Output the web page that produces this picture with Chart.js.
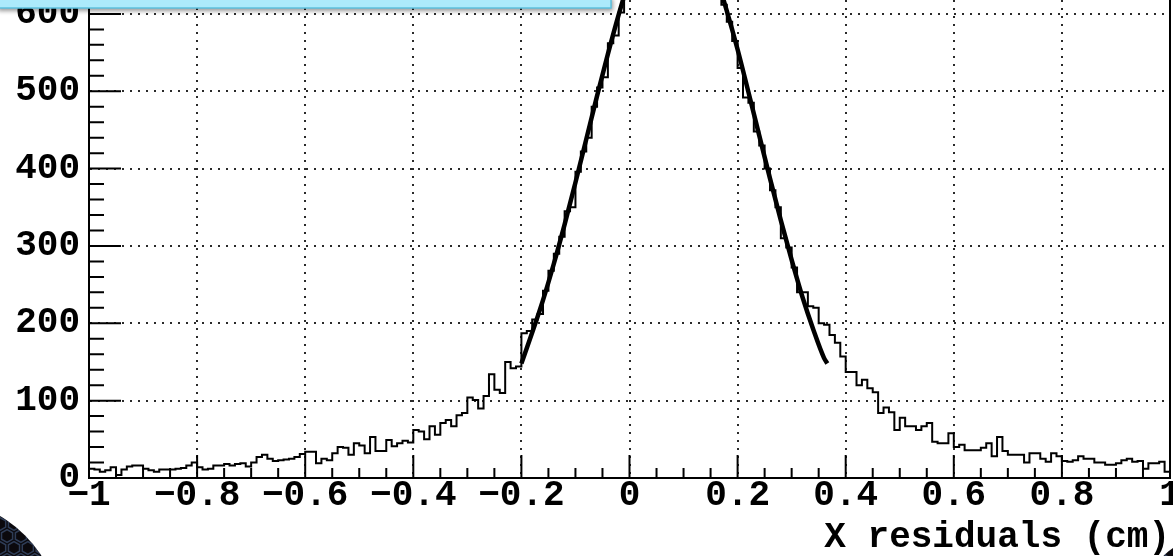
<!DOCTYPE html>
<html>
<head>
<meta charset="utf-8">
<title>X residuals</title>
<script src="https://cdn.jsdelivr.net/npm/chart.js@4.4.1/dist/chart.umd.min.js"></script>
<style>
  html, body { margin: 0; padding: 0; background: #fff; overflow: hidden; }
  #wrap { position: relative; width: 1173px; height: 556px; }
</style>
</head>
<body>
<div id="wrap"><canvas id="resid"></canvas></div>
<script>
// histogram binning: 200 bins of 0.01 cm between -1 and 1
const binLow = -1;
const binWidth = 0.01;

// entries per bin, left edge -1.00 ... 0.99
const counts = [
  12, 11, 8, 10, 14, 4, 11, 15, 16, 16, 12, 10, 8, 11, 11, 11, 12, 13, 16, 20,
  14, 11, 12, 16, 16, 18, 16, 18, 19, 15, 20, 27, 30, 25, 22, 23, 24, 25, 27, 31,
  34, 34, 19, 25, 23, 32, 40, 39, 30, 45, 42, 32, 53, 35, 35, 49, 41, 45, 48, 46,
  62, 60, 50, 67, 56, 71, 75, 67, 81, 84, 104, 101, 90, 106, 134, 114, 110, 150, 142, 144,
  187, 190, 205, 212, 242, 268, 290, 312, 345, 350, 396, 422, 440, 480, 505, 518, 562, 572, 602, 630,
  640, 662, 688, 700, 720, 722, 735, 730, 740, 728, 730, 712, 708, 690, 680, 655, 640, 612, 590, 565,
  530, 492, 485, 448, 430, 400, 372, 350, 310, 298, 272, 240, 240, 222, 220, 200, 198, 185, 175, 157,
  137, 137, 120, 127, 116, 111, 84, 91, 85, 62, 78, 67, 67, 62, 67, 71, 47, 45, 45, 58,
  40, 43, 36, 36, 36, 39, 45, 28, 53, 35, 30, 30, 30, 20, 32, 32, 25, 21, 32, 28,
  22, 21, 23, 28, 25, 25, 20, 20, 17, 17, 19, 23, 25, 21, 22, 12, 19, 19, 21, 8
];

// gaussian fit over the core, sampled along the fit range
const fitX = [-0.20, -0.18, -0.16, -0.14, -0.12, -0.10, -0.08, -0.06, -0.04, -0.02,
              0.00, 0.02, 0.04, 0.06, 0.08, 0.10, 0.12, 0.14, 0.16, 0.18,
              0.20, 0.22, 0.24, 0.26, 0.28, 0.30, 0.32, 0.34, 0.36, 0.366];
const fitY = [148, 188, 230, 277, 328, 382, 438, 494, 548, 599,
              645, 682, 711, 729, 735, 730, 713, 686, 649, 604,
              554, 499, 443, 387, 333, 282, 234, 192, 155, 148];

// axis ranges and tick spacing
const xRange = [-1, 1];
const yRange = [0, 618];
const xMajor = 0.2, xMinor = 0.05;
const yMajor = 100, yMinor = 20;
const xTitle = 'X residuals (cm)';

const axisFont = { family: 'Liberation Mono', weight: 'bold', size: 36, lineHeight: 1 };

const histPoints = counts.map((c, i) => ({ x: binLow + i * binWidth, y: c }));
histPoints.push({ x: binLow + counts.length * binWidth, y: counts[counts.length - 1] });
const fitPoints = fitX.map((x, i) => ({ x, y: fitY[i] }));

const fmtTick = v => {
  const r = Math.round(v * 10) / 10;
  return (r === 0 ? '0' : String(r)).replace('-', '\u2212');
};

// ROOT style frame: ticks pointing into the pad, right frame edge
const rootFrame = {
  id: 'rootFrame',
  afterDatasetsDraw(chart) {
    const { ctx, chartArea: a, scales: { x, y } } = chart;
    ctx.save();
    ctx.strokeStyle = '#000';
    ctx.lineWidth = 2;
    ctx.beginPath();
    const nx = Math.round((xRange[1] - xRange[0]) / xMinor);
    const per = Math.round(xMajor / xMinor);
    for (let i = 0; i <= nx; i++) {
      const px = x.getPixelForValue(xRange[0] + i * xMinor);
      const len = i % per === 0 ? 23 : 10;
      ctx.moveTo(px, a.bottom);
      ctx.lineTo(px, a.bottom - len);
    }
    for (let v = yRange[0]; v <= yRange[1]; v += yMinor) {
      const py = y.getPixelForValue(v);
      const len = v % yMajor === 0 ? 32 : 15;
      ctx.moveTo(a.left, py);
      ctx.lineTo(a.left + len, py);
    }
    ctx.moveTo(a.right, a.top);
    ctx.lineTo(a.right, a.bottom);
    ctx.stroke();
    ctx.restore();
  },
  afterDraw(chart) {
    const ctx = chart.ctx;
    const W = chart.width, H = chart.height;

    // dark slide background showing in the lower corners
    const darkDisc = (cx, cy, r) => {
      ctx.save();
      ctx.beginPath();
      ctx.arc(cx, cy, r, 0, Math.PI * 2);
      ctx.clip();
      ctx.fillStyle = '#0b090d';
      ctx.fillRect(cx - r, cy - r, 2 * r, 2 * r);
      ctx.strokeStyle = 'rgba(70, 95, 135, 0.6)';
      ctx.lineWidth = 1.5;
      const s = 8, w = Math.sqrt(3) * s;
      for (let row = 0, yy = cy - r; yy < cy + r + s; row++, yy += 1.5 * s) {
        for (let xx = cx - r + (row % 2) * w / 2; xx < cx + r + w; xx += w) {
          ctx.beginPath();
          for (let k = 0; k < 6; k++) {
            const ang = Math.PI / 6 + k * Math.PI / 3;
            const px = xx + s * 0.8 * Math.cos(ang), py = yy + s * 0.8 * Math.sin(ang);
            k ? ctx.lineTo(px, py) : ctx.moveTo(px, py);
          }
          ctx.closePath();
          ctx.stroke();
        }
      }
      ctx.restore();
    };
    darkDisc(-60, H + 64, 120);
    darkDisc(W + 27, H + 34, 50);

    // stats box hanging in from the top
    ctx.save();
    ctx.shadowColor = 'rgba(0, 0, 0, 0.4)';
    ctx.shadowBlur = 4;
    ctx.shadowOffsetX = 2;
    ctx.shadowOffsetY = 3;
    ctx.fillStyle = '#aceafb';
    ctx.fillRect(-4, -4, 615, 12);
    ctx.restore();
    ctx.save();
    ctx.strokeStyle = '#5cc0de';
    ctx.lineWidth = 1.5;
    ctx.strokeRect(-4, -4, 615, 12);
    ctx.restore();
  }
};

new Chart(document.getElementById('resid').getContext('2d'), {
  type: 'line',
  data: {
    datasets: [
      {
        label: 'residuals',
        data: histPoints,
        stepped: 'before',
        borderColor: '#000',
        borderWidth: 2,
        pointRadius: 0,
        fill: false
      },
      {
        label: 'fit',
        data: fitPoints,
        borderColor: '#000',
        borderWidth: 4.5,
        pointRadius: 0,
        cubicInterpolationMode: 'monotone',
        fill: false
      }
    ]
  },
  options: {
    responsive: true,
    maintainAspectRatio: false,
    animation: false,
    events: [],
    layout: { padding: { left: 0, right: 3, top: 0, bottom: 0 } },
    plugins: { legend: { display: false }, tooltip: { enabled: false } },
    scales: {
      x: {
        type: 'linear',
        min: xRange[0],
        max: xRange[1],
        grid: { color: '#2a2a2a', lineWidth: 2, drawTicks: false },
        border: { display: true, color: '#000', width: 2, dash: [2, 6] },
        ticks: {
          stepSize: xMajor,
          autoSkip: false,
          maxRotation: 0,
          padding: 0,
          color: '#000',
          font: axisFont,
          callback: fmtTick
        },
        title: {
          display: true,
          text: xTitle,
          align: 'end',
          color: '#000',
          font: axisFont,
          padding: { top: 0, bottom: 0 }
        },
        afterFit(s) { s.height = 78; s.paddingLeft = 0; s.paddingRight = 0; }
      },
      y: {
        min: yRange[0],
        max: yRange[1],
        grid: { color: '#2a2a2a', lineWidth: 2, drawTicks: false },
        border: { display: true, color: '#000', width: 2, dash: [2, 6] },
        ticks: {
          stepSize: yMajor,
          includeBounds: false,
          padding: 9,
          color: '#000',
          font: axisFont
        },
        afterFit(s) { s.width = 89; s.paddingTop = 0; s.paddingBottom = 0; }
      }
    }
  },
  plugins: [rootFrame]
});
</script>
</body>
</html>
